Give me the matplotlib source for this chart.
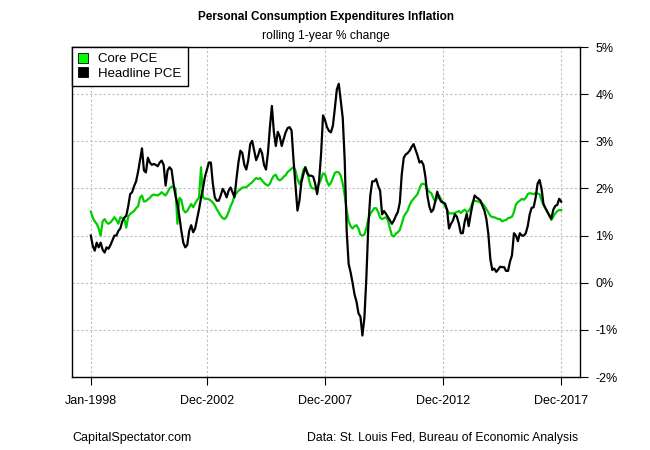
import matplotlib

matplotlib.use("Agg")
import matplotlib.pyplot as plt
import numpy as np
from matplotlib.patches import Patch

plt.rcParams["font.family"] = ["Liberation Sans", "DejaVu Sans"]

# monthly rolling 1-year % change, Jan-1998 .. Dec-2017
headline_pce = [
    1.0, 0.78, 0.68, 0.85, 0.75, 0.85, 0.7, 0.64, 0.75, 0.72, 0.8, 0.9,
    1.0, 1.0, 1.1, 1.15, 1.3, 1.38, 1.42, 1.62, 1.88, 1.92, 2.05, 2.15,
    2.35, 2.6, 2.85, 2.38, 2.34, 2.65, 2.55, 2.5, 2.52, 2.5, 2.47, 2.55,
    2.59, 2.5, 2.06, 2.38, 2.45, 2.4, 2.1, 1.85, 1.67, 1.4, 1.1, 0.85,
    0.75, 0.8, 1.1, 1.22, 1.07, 1.15, 1.35, 1.56, 1.8, 2.0, 2.25, 2.4,
    2.55, 2.55, 2.1, 1.81, 1.74, 1.74, 1.85, 1.99, 1.92, 1.81, 1.95, 2.02,
    1.92, 1.81, 2.2, 2.55, 2.8, 2.75, 2.5, 2.4, 2.6, 2.94, 3.01, 2.8,
    2.6, 2.7, 2.84, 2.75, 2.5, 2.4, 2.75, 3.3, 3.75, 3.2, 2.9, 3.2,
    3.1, 2.9, 3.05, 3.19, 3.28, 3.3, 3.23, 2.6, 2.05, 1.53, 1.74, 2.13,
    2.3, 2.45, 2.32, 2.27, 2.27, 2.25, 2.1, 1.88, 2.17, 2.73, 3.55, 3.45,
    3.3, 3.22, 3.19, 3.33, 3.7, 4.1, 4.22, 3.86, 3.5, 2.6, 1.1, 0.4,
    0.22, 0.0, -0.25, -0.4, -0.65, -0.72, -1.12, -0.75, 0.1, 1.2, 1.85, 2.15,
    2.15, 2.2, 2.05, 1.95, 1.45, 1.52, 1.46, 1.39, 1.32, 1.25, 1.32, 1.42,
    1.5, 1.7, 2.3, 2.65, 2.72, 2.75, 2.8, 2.88, 2.94, 2.82, 2.7, 2.55,
    2.58, 2.5, 2.25, 1.85, 1.62, 1.5, 1.55, 1.72, 1.93, 1.8, 1.72, 1.7,
    1.68, 1.55, 1.15, 1.25, 1.32, 1.45, 1.4, 1.25, 1.05, 1.05, 1.3, 1.46,
    1.2, 1.45, 1.67, 1.85, 1.81, 1.78, 1.74, 1.63, 1.53, 1.35, 1.03, 0.5,
    0.27, 0.3, 0.23, 0.28, 0.34, 0.33, 0.33, 0.25, 0.25, 0.45, 0.58, 1.05,
    1.0, 0.88, 1.05, 1.0, 1.0, 1.05, 1.2, 1.45, 1.59, 1.6, 1.8, 2.1,
    2.18, 2.0, 1.67, 1.58, 1.5, 1.42, 1.36, 1.55, 1.63, 1.65, 1.78, 1.72,
]

core_pce = [
    1.51, 1.38, 1.3, 1.25, 1.15, 1.0, 1.3, 1.35, 1.28, 1.25, 1.28, 1.33,
    1.39, 1.33, 1.25, 1.39, 1.37, 1.36, 1.17, 1.4, 1.46, 1.49, 1.52, 1.58,
    1.62, 1.8, 1.85, 1.72, 1.73, 1.77, 1.8, 1.85, 1.87, 1.86, 1.85, 1.88,
    1.92, 1.88, 1.85, 1.92, 2.0, 2.04, 2.03, 2.0, 1.25, 1.8, 1.76, 1.55,
    1.49, 1.52, 1.6, 1.67, 1.6, 1.68, 1.75, 1.81, 2.45, 1.81, 1.78, 1.78,
    1.77, 1.74, 1.7, 1.64, 1.56, 1.49, 1.42, 1.37, 1.35, 1.4, 1.5, 1.62,
    1.71, 1.85, 1.9, 1.95, 1.98, 2.02, 2.02, 2.03, 2.06, 2.1, 2.13, 2.18,
    2.22, 2.2, 2.22, 2.17, 2.12, 2.08, 2.06, 2.1, 2.2, 2.27, 2.29, 2.2,
    2.17, 2.2, 2.25, 2.28, 2.35, 2.38, 2.42, 2.45, 2.38, 2.2, 2.09, 2.2,
    2.4, 2.45, 2.35, 2.15, 2.02, 2.0, 1.99, 2.02, 2.1, 2.2, 2.32, 2.3,
    2.15, 2.06, 2.12, 2.22, 2.33, 2.35, 2.34, 2.27, 2.1, 1.85, 1.55, 1.3,
    1.2, 1.15, 1.2, 1.22, 1.15, 1.02, 1.0, 1.02, 1.15, 1.35, 1.46, 1.52,
    1.58, 1.58, 1.5, 1.38, 1.35, 1.37, 1.39, 1.32, 1.15, 1.0, 0.98, 1.04,
    1.07, 1.12, 1.25, 1.4, 1.47, 1.53, 1.65, 1.73, 1.78, 1.83, 1.88, 2.0,
    2.09, 2.1, 2.08, 1.97, 1.93, 1.9, 1.8, 1.72, 1.8, 1.85, 1.76, 1.7,
    1.62, 1.55, 1.47, 1.47, 1.47, 1.48, 1.5, 1.52, 1.48, 1.52, 1.55, 1.5,
    1.52, 1.59, 1.71, 1.74, 1.73, 1.72, 1.7, 1.68, 1.63, 1.56, 1.49, 1.42,
    1.39, 1.39, 1.37, 1.35, 1.35, 1.3, 1.32, 1.33, 1.37, 1.38, 1.4, 1.5,
    1.66, 1.71, 1.74, 1.78, 1.76, 1.8, 1.88, 1.9, 1.89, 1.88, 1.9, 1.89,
    1.88, 1.75, 1.65, 1.58, 1.5, 1.44, 1.33, 1.4, 1.47, 1.52, 1.54, 1.54,
]

x_tick_positions = [0, 59, 119, 179, 239]
x_tick_labels = ["Jan-1998", "Dec-2002", "Dec-2007", "Dec-2012", "Dec-2017"]
y_ticks = [-2, -1, 0, 1, 2, 3, 4, 5]

GREEN = "#00CD00"

fig = plt.figure(figsize=(6.5, 4.5), dpi=100)
ax = fig.add_axes([72 / 650, 73 / 450, 508 / 650, 330 / 450])

months = np.arange(len(headline_pce))
ax.plot(months, core_pce, color=GREEN, linewidth=1.6)
ax.plot(months, headline_pce, color="black", linewidth=1.6)

n = len(headline_pce) - 1
ax.set_xlim(-0.04 * n, n * 1.04)
ax.set_ylim(-2, 5)

ax.set_xticks(x_tick_positions)
ax.set_xticklabels(x_tick_labels, fontsize=9)
ax.set_yticks(y_ticks)
ax.set_yticklabels([f"{v}%" for v in y_ticks], fontsize=9)
ax.yaxis.tick_right()
ax.tick_params(axis="both", direction="out", length=6, width=0.8, color="black")
ax.tick_params(axis="x", pad=7)
ax.tick_params(axis="y", pad=5)

ax.grid(True, color="#BEBEBE", linestyle=(0, (2, 2)), linewidth=0.8)
ax.set_axisbelow(True)
for spine in ax.spines.values():
    spine.set_linewidth(1.0)

handles = [
    Patch(facecolor="#00FF00", edgecolor="black", linewidth=0.6),
    Patch(facecolor="black", edgecolor="black", linewidth=0.6),
]
leg = ax.legend(
    handles,
    ["Core PCE", "Headline PCE"],
    loc="upper left",
    borderaxespad=0,
    fancybox=False,
    framealpha=1,
    edgecolor="black",
    fontsize=9.5,
    handlelength=0.75,
    handleheight=0.75,
    handletextpad=0.8,
    labelspacing=0.15,
    borderpad=0.45,
)
leg.get_frame().set_linewidth(1.0)

fig.text(326 / 650, 1 - 17 / 450, "Personal Consumption Expenditures Inflation",
         ha="center", va="center", fontsize=8.5, fontweight="bold")
fig.text(326 / 650, 1 - 36 / 450, "rolling 1-year % change",
         ha="center", va="center", fontsize=8.7)
fig.text(72 / 650, 1 - 438 / 450, "CapitalSpectator.com",
         ha="left", va="center", fontsize=9)
fig.text(578 / 650, 1 - 438 / 450, "Data: St. Louis Fed, Bureau of Economic Analysis",
         ha="right", va="center", fontsize=8.8)

fig.savefig("out.png", dpi=100)
